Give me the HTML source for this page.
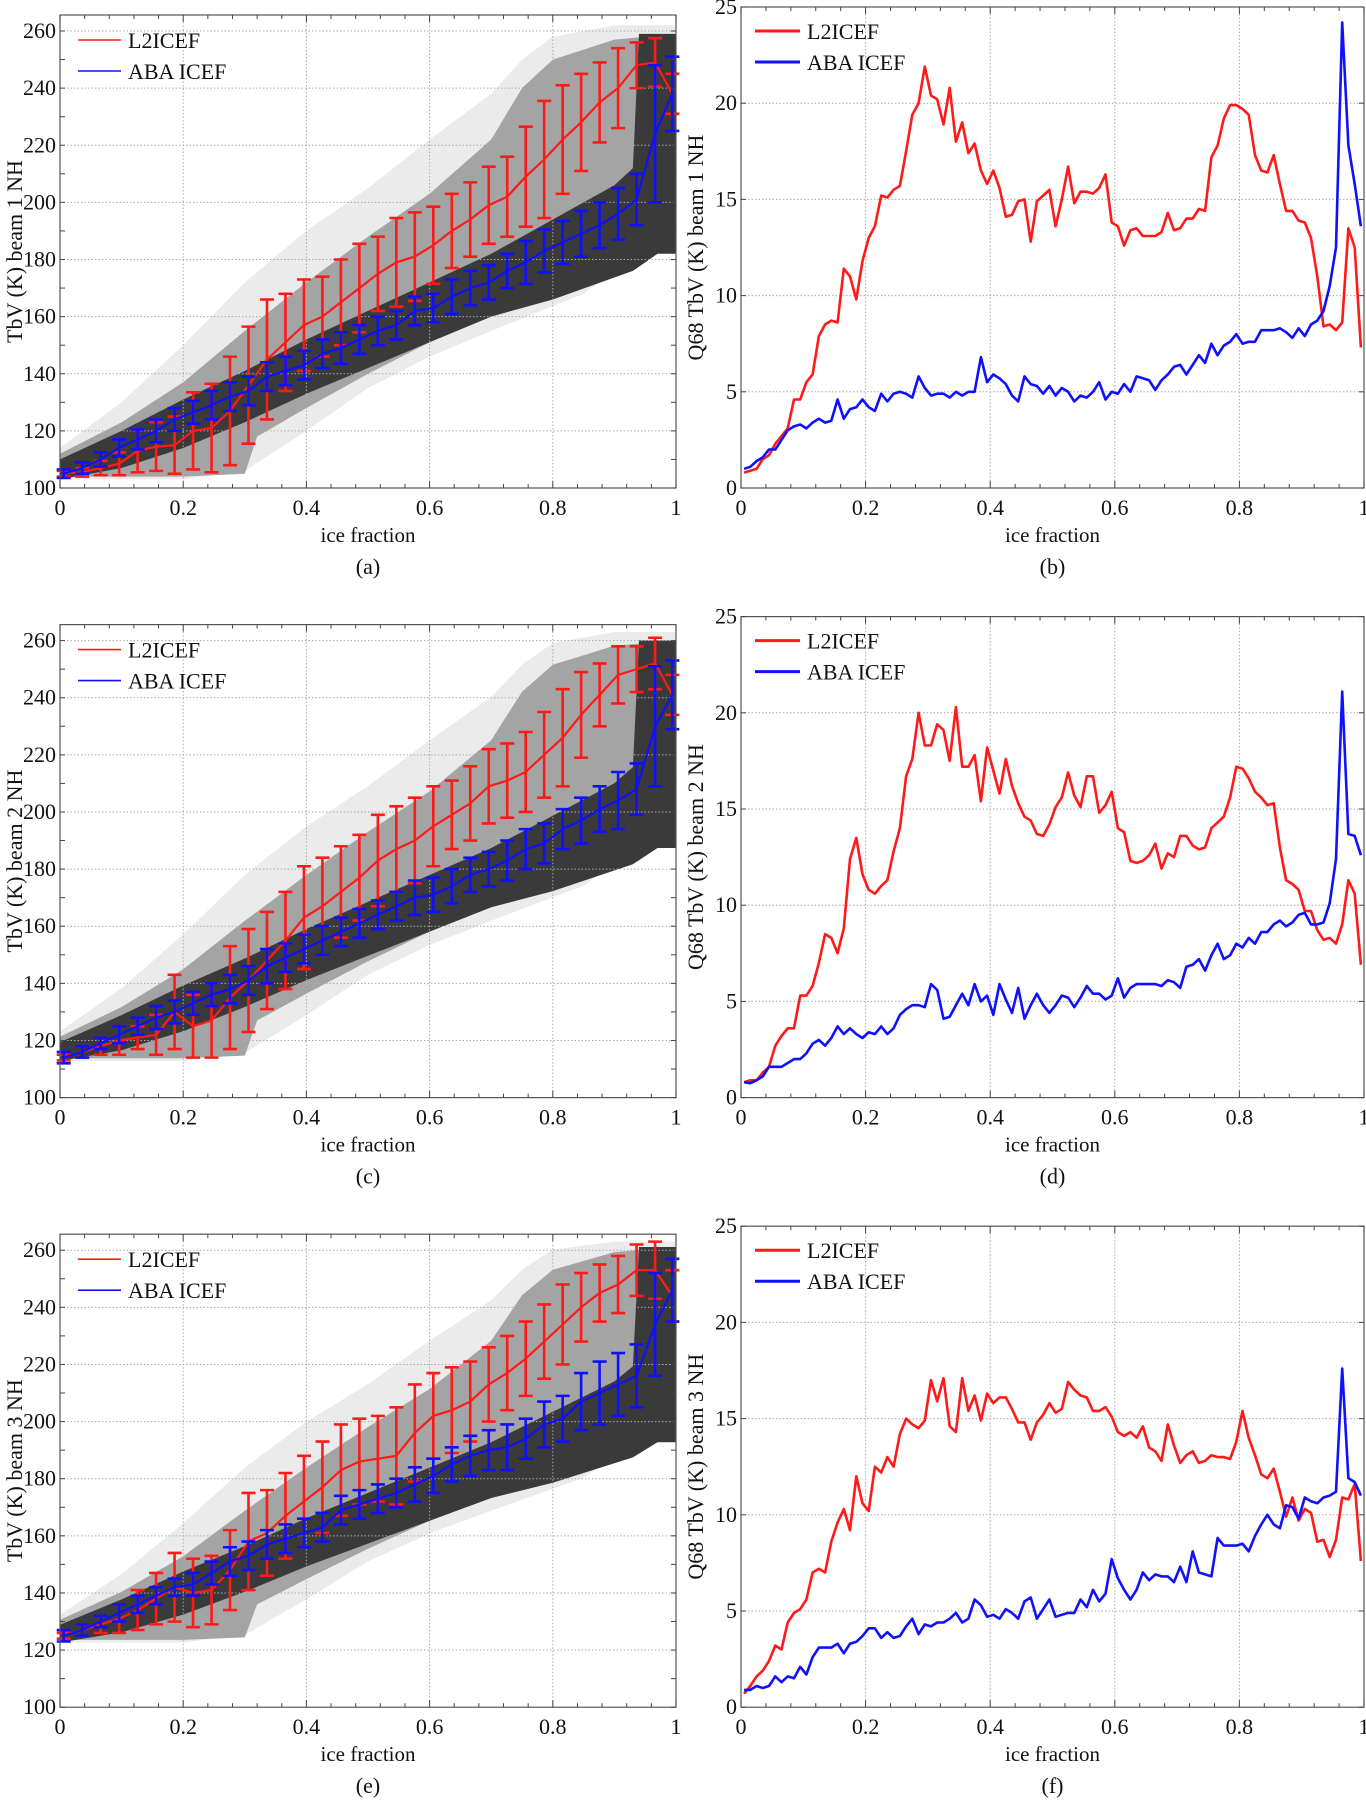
<!DOCTYPE html>
<html><head><meta charset="utf-8"><style>
html,body{margin:0;padding:0;background:#fff;}
svg{display:block;font-family:"Liberation Serif",serif;}
</style></head><body>
<svg id="fig" width="1366" height="1800" viewBox="0 0 1366 1800" xmlns="http://www.w3.org/2000/svg"></svg>
<script>
// ---------- Data: error-bar panels (a),(c),(e) ----------
const binX = [0.006,0.036,0.066,0.096,0.126,0.156,0.186,0.216,0.246,0.276,0.306,0.336,0.366,0.396,0.426,0.456,0.486,0.516,0.546,0.576,0.606,0.636,0.666,0.696,0.726,0.756,0.786,0.816,0.846,0.876,0.906,0.936,0.966,0.994];
const aRed = [105,105.5,107,108.5,113,114.5,115,120,121,127,136,145,151,157,160,165,170,175,179,181,185,190,194,199,202,209,215,222,228,235,240,248,249,238];
const aRedErr = [1,1.5,2.5,4,7.5,8.5,10,13.5,15.5,19,20.5,21,17,16,14,15,15.5,13,15.5,15.5,13.5,13,13,13.5,14,17.5,20.5,19,17,14,14,8,8.5,7];
const aBlue = [105,107,110,114,117,120,124,126.5,129,132,134,139,141,143,147,149,152,155,157,162,163,167,170,172,176,179,183,186,189,192,196,201,224,238];
const aBlueErr = [1.5,2,2.5,3,3.5,4,4,4,5,5,5,5,5,5,5,5.5,5,5,5,5,5,6,6,6,6,7.5,7.5,7.5,8,8,9,9,24,13];
const cRed = [114,116,118,120,121,122,130,125,127,135,141,148,155,163,167,172,177,183,187,190,195,199,203,209,211,214,220,226,234,241,248,250,252,241];
const cRedErr = [1,2,3,5,4,7,13,11,13,18,18,17,17,18,17,16,15,16,15,15,14,12,13,13,13,14,15,17,15,11,10,8,9,7];
const cBlue = [114,116,119,122,125,128,130,133,136,138,141,146,149,152,155,158,161,164,167,170,171,174,178,180,183,187,189,194,197,201,204,208,230,241];
const cBlueErr = [2,2,2,3,3,4,4,4,4,5,5,6,5,5,5,5,5,5,5,6,6,6,6,6,7,7,7,7,8,8,10,9,21,12];
const eRed = [125,127,129,131,134,138,142,140,141,148,158,161,167,172,177,183,186,187,188,196,202,204,207,213,217,222,228,234,240,245,248,253,253,244];
const eRedErr = [1,2,3,5,7,9,12,12,12,14,17,15,15,16,16,16,15,15,17,17,15,15,14,13,13,13,13,14,12,10,10,9,10,9];
const eBlue = [125,127,130,133,136,139,142,143,147,151,153,157,159,161,163,169,171,173,175,178,181,185,188,190,191,194,199,201,207,210,213,216,234,246];
const eBlueErr = [2,2,2,3,3,3,3,4,4,5,5,5,5,5,5,5,5,5,5,6,6,6,7,7,8,7,8,8,10,11,11,11,18,11];

// ---------- Data: Q68 panels (b),(d),(f); x = 0.005 + 0.01*i ----------
const bRed = [0.8,0.9,1.0,1.5,1.7,2.3,2.7,3.1,4.6,4.6,5.5,5.9,7.9,8.5,8.7,8.6,11.4,11.0,9.8,11.8,13.0,13.6,15.2,15.1,15.5,15.7,17.5,19.4,20.0,21.9,20.4,20.2,18.9,20.8,18.0,19.0,17.4,17.9,16.5,15.8,16.5,15.6,14.1,14.2,14.9,15.0,12.8,14.9,15.2,15.5,13.6,15.0,16.7,14.8,15.4,15.4,15.3,15.6,16.3,13.8,13.6,12.6,13.4,13.5,13.1,13.1,13.1,13.3,14.3,13.4,13.5,14.0,14.0,14.5,14.4,17.2,17.8,19.2,19.9,19.9,19.7,19.4,17.3,16.5,16.4,17.3,15.8,14.4,14.4,13.9,13.8,13.0,11.0,8.4,8.5,8.2,8.6,13.5,12.5,7.3];
const bBlue = [1.0,1.1,1.4,1.6,2.0,2.0,2.5,3.0,3.2,3.3,3.1,3.4,3.6,3.4,3.5,4.6,3.6,4.1,4.2,4.6,4.2,4.0,4.9,4.5,4.9,5.0,4.9,4.7,5.8,5.2,4.8,4.9,4.9,4.7,5.0,4.8,5.0,5.0,6.8,5.5,5.9,5.7,5.4,4.8,4.5,5.8,5.4,5.3,4.9,5.3,4.8,5.2,5.0,4.5,4.8,4.7,5.0,5.5,4.6,5.0,4.9,5.4,5.0,5.8,5.7,5.6,5.1,5.6,5.9,6.3,6.4,5.9,6.4,6.9,6.5,7.5,6.9,7.4,7.6,8.0,7.5,7.6,7.6,8.2,8.2,8.2,8.3,8.1,7.8,8.3,7.9,8.5,8.7,9.2,10.5,12.5,24.2,17.8,15.8,13.6];
const dRed = [0.8,0.9,0.9,1.3,1.6,2.7,3.2,3.6,3.6,5.3,5.3,5.8,7.0,8.5,8.3,7.5,8.8,12.4,13.5,11.6,10.8,10.6,11.0,11.3,12.8,14.0,16.7,17.6,20.0,18.3,18.3,19.4,19.1,17.5,20.3,17.2,17.2,17.8,15.4,18.2,17.0,15.8,17.6,16.2,15.3,14.6,14.4,13.7,13.6,14.2,15.1,15.6,16.9,15.7,15.1,16.7,16.7,14.8,15.2,15.9,14.0,13.8,12.3,12.2,12.3,12.6,13.2,11.9,12.7,12.5,13.6,13.6,13.1,12.9,13.0,14.0,14.3,14.6,15.6,17.2,17.1,16.6,15.9,15.6,15.2,15.3,13.0,11.3,11.1,10.8,9.7,9.7,8.7,8.2,8.3,8.0,9.0,11.3,10.6,6.9];
const dBlue = [0.8,0.75,0.9,1.1,1.6,1.6,1.6,1.8,2.0,2.0,2.3,2.8,3.0,2.7,3.1,3.7,3.3,3.6,3.3,3.1,3.4,3.3,3.7,3.3,3.6,4.3,4.6,4.8,4.8,4.7,5.9,5.6,4.1,4.2,4.8,5.4,4.8,5.9,5.0,5.3,4.3,5.9,5.1,4.4,5.7,4.1,4.8,5.4,4.8,4.4,4.8,5.3,5.2,4.7,5.2,5.8,5.4,5.4,5.1,5.3,6.2,5.2,5.7,5.9,5.9,5.9,5.9,5.8,6.1,6.0,5.7,6.8,6.9,7.2,6.6,7.4,8.0,7.2,7.4,8.0,7.8,8.3,8.0,8.6,8.6,9.0,9.2,8.9,9.1,9.5,9.6,9.0,9.0,9.1,10.1,12.4,21.1,13.7,13.6,12.6];
const fRed = [0.7,1.1,1.6,1.9,2.4,3.2,3.0,4.4,4.9,5.1,5.6,7.0,7.2,7.0,8.6,9.6,10.3,9.2,12.0,10.6,10.2,12.5,12.2,13.0,12.5,14.2,15.0,14.7,14.5,14.9,17.0,15.9,17.1,14.6,14.3,17.1,15.4,16.2,14.9,16.3,15.8,16.1,16.1,15.5,14.8,14.8,13.9,14.8,15.2,15.8,15.3,15.5,16.9,16.5,16.2,16.1,15.4,15.4,15.6,15.1,14.3,14.1,14.3,14.0,14.6,13.5,13.3,12.8,14.7,13.6,12.7,13.1,13.3,12.7,12.8,13.1,13.0,13.0,12.9,13.8,15.4,14.0,13.1,12.1,11.9,12.4,11.2,9.9,10.9,9.7,10.3,10.1,8.6,8.7,7.8,8.7,10.9,10.8,11.6,7.6];
const fBlue = [0.9,0.9,1.1,1.0,1.1,1.6,1.3,1.6,1.5,2.1,1.7,2.6,3.1,3.1,3.1,3.3,2.8,3.3,3.4,3.7,4.1,4.1,3.6,3.9,3.6,3.7,4.2,4.6,3.8,4.3,4.2,4.4,4.4,4.6,4.9,4.4,4.6,5.6,5.3,4.7,4.8,4.6,5.1,4.9,4.6,5.5,5.7,4.6,5.1,5.6,4.7,4.8,4.9,4.9,5.6,5.2,6.1,5.5,5.9,7.7,6.7,6.1,5.6,6.1,7.0,6.6,6.9,6.8,6.8,6.5,7.3,6.5,8.1,7.0,6.9,6.8,8.8,8.4,8.4,8.4,8.5,8.1,8.9,9.5,10.0,9.5,9.3,10.5,10.4,9.8,10.9,10.7,10.6,10.9,11.0,11.2,17.6,11.9,11.7,11.0];

const leftYTicks = [100,120,140,160,180,200,220,240,260];
const rightYTicks = [0,5,10,15,20,25];
const xTicks = [0,0.2,0.4,0.6,0.8,1];
const xTickLabels = ["0","0.2","0.4","0.6","0.8","1"];
const panelLetters = ["(a)","(b)","(c)","(d)","(e)","(f)"];
const beamNames = ["beam 1 NH","beam 2 NH","beam 3 NH"];

// scatter cloud outlines (x, TbV) per beam – decorative density bands
const sparseTop = [[0,114],[0.1,130],[0.2,150],[0.3,172],[0.4,190],[0.5,205],[0.6,222],[0.7,238],[0.75,250],[0.8,258],[0.9,262],[1,262]];
const sparseBot = [[1,186],[0.95,184],[0.85,168],[0.7,155],[0.6,146],[0.5,135],[0.4,120],[0.3,106],[0.2,103],[0.1,103],[0,103]];
const medTop = [[0,112],[0.1,123],[0.2,137],[0.3,155],[0.4,172],[0.5,188],[0.6,203],[0.7,222],[0.75,240],[0.8,250],[0.9,257],[1,259]];
const medBot = [[1,186],[0.95,186],[0.85,172],[0.7,160],[0.6,151],[0.5,140],[0.4,128],[0.32,118],[0.3,105],[0.2,104],[0.1,104],[0,104]];
const darkTop = [[0,110],[0.1,120],[0.2,131],[0.3,141],[0.4,152],[0.5,162],[0.6,172],[0.7,182],[0.8,194],[0.9,206],[0.93,212],[0.94,259],[1,259]];
const darkBot = [[1,182],[0.97,182],[0.93,176],[0.8,166],[0.7,160],[0.6,151],[0.5,142],[0.4,133],[0.3,123],[0.2,114],[0.1,107],[0,103]];
const beamShift = [0, 10, 20];

const NS = "http://www.w3.org/2000/svg";
const svg = document.getElementById('fig');
function mk(tag, attrs, parent){ const e=document.createElementNS(NS,tag); for(const k in attrs) e.setAttribute(k,attrs[k]); (parent||svg).appendChild(e); return e; }

const rowOff = [0, 609.6, 1219.2];

function axisBox(g, X, Y, x0, x1, yTop, yBot, yticks, yMinorStep, yMin, yMax){
  xTicks.forEach(t=>{ if(t>0&&t<1){ const l=mk('line',{x1:X(t),x2:X(t),y1:yTop,y2:yBot,stroke:'#aaa','stroke-width':1,'stroke-dasharray':'1.5,2'},g);
      }});
  yticks.forEach(t=>{ if(t>yMin&&t<yMax){ const l=mk('line',{x1:x0,x2:x1,y1:Y(t),y2:Y(t),stroke:'#aaa','stroke-width':1,'stroke-dasharray':'1.5,2'},g);
      }});
}
function axisFrame(g, X, Y, x0, x1, yTop, yBot, yticks, yMinorStep, yMin, yMax){
  const r=mk('rect',{x:x0,y:yTop,width:x1-x0,height:yBot-yTop,fill:'none',stroke:'#555','stroke-width':1.2},g);
   
  for(let t=0;t<=1.0001;t+=0.04){ const x=X(t); const L=Math.abs((t*5)-Math.round(t*5))<1e-6?7:4;
    mk('line',{x1:x,x2:x,y1:yBot,y2:yBot-L,stroke:'#444','stroke-width':1},g);
    mk('line',{x1:x,x2:x,y1:yTop,y2:yTop+L,stroke:'#444','stroke-width':1},g); }
  for(let v=yMin; v<=yMax+1e-6; v+=yMinorStep){ const y=Y(v);
    mk('line',{x1:x0,x2:x0+5,y1:y,y2:y,stroke:'#444','stroke-width':1},g);
    mk('line',{x1:x1,x2:x1-5,y1:y,y2:y,stroke:'#444','stroke-width':1},g); }
  xTicks.forEach((t,i)=>{ const tx=mk('text',{x:X(t),y:yBot+27,'font-size':22,'text-anchor':'middle',fill:'#111'},g); tx.textContent=xTickLabels[i];
      });
  yticks.forEach(t=>{ const tx=mk('text',{x:x0-4,y:Y(t)+7,'font-size':22,'text-anchor':'end',fill:'#111'},g); tx.textContent=String(t);
      });
  const xl=mk('text',{x:(x0+x1)/2,y:yBot+54,'font-size':21,'text-anchor':'middle',fill:'#111'},g); xl.textContent='ice fraction';
   
}
function legend(g, lx, ly, w, sw){
  [['L2ICEF','#ff1a1a'],['ABA ICEF','#1010ff']].forEach((e,i)=>{
    const y=ly+i*31;
    const l=mk('line',{x1:lx,x2:lx+w,y1:y,y2:y,stroke:e[1],'stroke-width':sw},g);
     
    const t=mk('text',{x:lx+w+7,y:y+8,'font-size':22,fill:'#111'},g); t.textContent=e[0];
     
  });
}
function poly(g, pts, X, Y, fill, shift){
  const d=pts.map(p=>{ let v=p[1]+shift*(1-Math.min(1,Math.max(0,(p[1]-100)/160))*0.9); return X(p[0]).toFixed(1)+','+Y(Math.min(v,263)).toFixed(1); }).join(' ');
  return mk('polygon',{points:d,fill:fill,stroke:'none'},g);
}
function pathFrom(xs, ys, X, Y){ return xs.map((x,i)=>(i?'L':'M')+X(x).toFixed(1)+','+Y(ys[i]).toFixed(1)).join(''); }

const errSets = [[aRed,aRedErr,aBlue,aBlueErr],[cRed,cRedErr,cBlue,cBlueErr],[eRed,eRedErr,eBlue,eBlueErr]];
const qSets = [[bRed,bBlue],[dRed,dBlue],[fRed,fBlue]];
const qX = bRed.map((_,i)=>0.005+0.01*i);

for(let r=0;r<3;r++){
  const o=rowOff[r];
  const gL=mk('g',{});  
  const x0=60,x1=676, yBot=488+o, yTop=15+o;
  const X=v=>x0+v*(x1-x0); const Y=v=>yBot-(v-100)*(457/160);
  const s=beamShift[r];
  const sp=poly(gL,sparseTop.concat(sparseBot),X,Y,'#ebebeb',s);  
  const md=poly(gL,medTop.concat(medBot),X,Y,'#a4a4a4',s);  
  const dk=poly(gL,darkTop.concat(darkBot),X,Y,'#3a3a3a',s);  
  axisBox(gL,X,Y,x0,x1,yTop,yBot,leftYTicks,10,100,266);
  const [rm,re,bm,be]=errSets[r];
  [[rm,re,'#ff1a1a','l2icef'],[bm,be,'#1010ff','aba-icef']].forEach(sr=>{
    const ln=mk('path',{d:pathFrom(binX,sr[0],X,Y),fill:'none',stroke:sr[2],'stroke-width':2.2},gL);
     
    binX.forEach((bx,i)=>{
      const cx=X(bx), yl=Y(sr[0][i]-sr[1][i]), yh=Y(sr[0][i]+sr[1][i]);
      const eb=mk('path',{d:`M${cx},${yl}L${cx},${yh}M${cx-7},${yl}L${cx+7},${yl}M${cx-7},${yh}L${cx+7},${yh}`,fill:'none',stroke:sr[2],'stroke-width':2.6},gL);
       
    });
  });
  axisFrame(gL,X,Y,x0,x1,yTop,yBot,leftYTicks,10,100,266);
  const yl=mk('text',{transform:`translate(22,${(yTop+yBot)/2}) rotate(-90)`,'font-size':22,'text-anchor':'middle',fill:'#111'},gL);
  yl.textContent='TbV (K) '+beamNames[r];  
  legend(gL,78,40+o,43,1.6);
  const pl=mk('text',{x:(x0+x1)/2,y:574+o,'font-size':22,'text-anchor':'middle',fill:'#111'},gL); pl.textContent=panelLetters[2*r];
   

  const gR=mk('g',{});  
  const rx0=741,rx1=1364, ryBot=488+o, ryTop=7+o;
  const RX=v=>rx0+v*(rx1-rx0); const RY=v=>ryBot-v*((ryBot-ryTop)/25);
  axisBox(gR,RX,RY,rx0,rx1,ryTop,ryBot,rightYTicks,5,0,25);
  const [qr,qb]=qSets[r];
  const lr=mk('path',{d:pathFrom(qX,qr,RX,RY),fill:'none',stroke:'#ff1a1a','stroke-width':2.6,'stroke-linejoin':'round'},gR);
   
  const lb=mk('path',{d:pathFrom(qX,qb,RX,RY),fill:'none',stroke:'#1010ff','stroke-width':2.6,'stroke-linejoin':'round'},gR);
   
  axisFrame(gR,RX,RY,rx0,rx1,ryTop,ryBot,rightYTicks,5,0,25);
  const ryl=mk('text',{transform:`translate(703,${(ryTop+ryBot)/2}) rotate(-90)`,'font-size':22,'text-anchor':'middle',fill:'#111'},gR);
  ryl.textContent='Q68 TbV (K) '+beamNames[r];  
  legend(gR,755,31+o,45,3);
  const pr=mk('text',{x:(rx0+rx1)/2,y:574+o,'font-size':22,'text-anchor':'middle',fill:'#111'},gR); pr.textContent=panelLetters[2*r+1];
   
}
</script>
</body></html>
